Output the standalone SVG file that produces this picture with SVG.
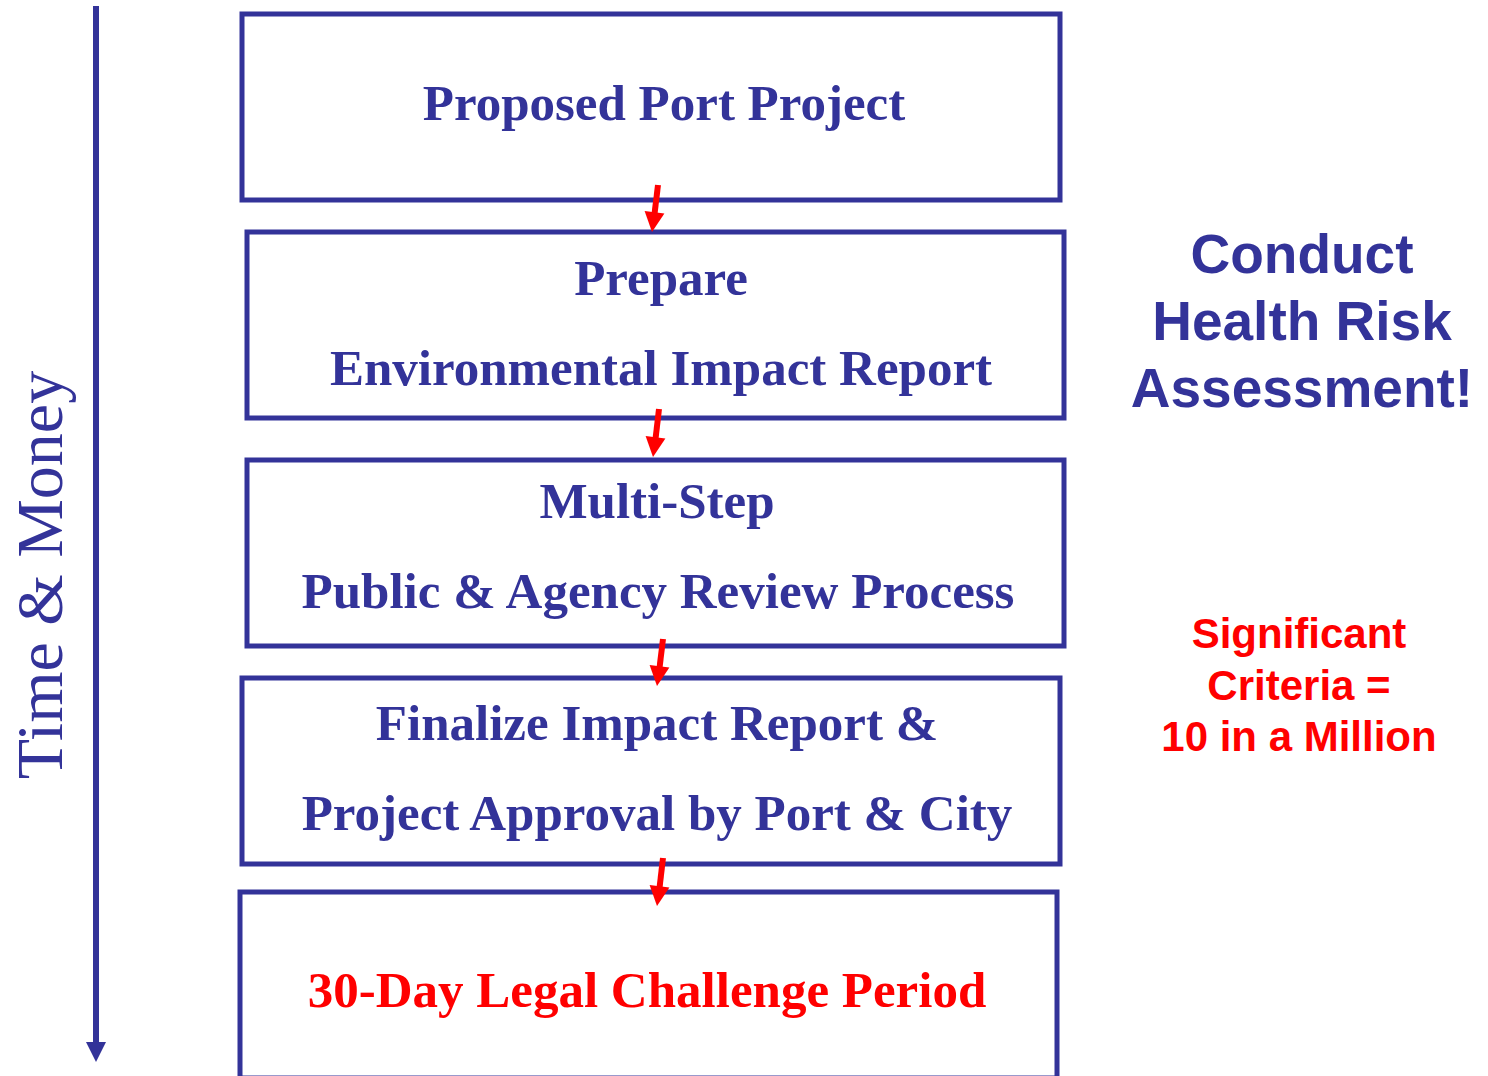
<svg xmlns="http://www.w3.org/2000/svg" width="1488" height="1076" viewBox="0 0 1488 1076">
<style>
.box{fill:#ffffff;stroke:#333399;stroke-width:5}
.bt{font-family:"Liberation Serif","Times New Roman",serif;font-weight:bold;font-size:51px;fill:#333399;text-anchor:middle}
.red{fill:#ff0000}
.side{font-family:"Liberation Sans",Arial,sans-serif;font-weight:bold;text-anchor:middle}
.conn{stroke:#ff0000;stroke-width:6;fill:none}
.head{fill:#ff0000}
</style>
<rect width="1488" height="1076" fill="#ffffff"/>
<g id="axis">
<line x1="96" y1="6" x2="96" y2="1046" stroke="#333399" stroke-width="6"/>
<path d="M86,1042 L106,1042 L96,1062 z" fill="#333399"/>
<text transform="translate(62,575) rotate(-90)" font-family="'Liberation Serif','Times New Roman',serif" font-size="66" fill="#333399" text-anchor="middle">Time &amp; Money</text>
</g>
<g id="n1"><rect class="box" x="242" y="14" width="818" height="186"/><text class="bt" x="664" y="120">Proposed Port Project</text></g>
<g id="n2"><rect class="box" x="247" y="232" width="817" height="186"/><text class="bt" x="661" y="295">Prepare</text><text class="bt" x="661" y="385">Environmental Impact Report</text></g>
<g id="n3"><rect class="box" x="247" y="460" width="817" height="186"/><text class="bt" x="657" y="518">Multi-Step</text><text class="bt" x="658" y="608">Public &amp; Agency Review Process</text></g>
<g id="n4"><rect class="box" x="242" y="678" width="818" height="186"/><text class="bt" x="657" y="740">Finalize Impact Report &amp;</text><text class="bt" x="657" y="830">Project Approval by Port &amp; City</text></g>
<g id="n5"><rect class="box" x="240" y="892" width="817" height="186"/><text class="bt red" x="647" y="1007">30-Day Legal Challenge Period</text></g>
<g id="hra"><text class="side" font-size="55" fill="#333399"><tspan x="1302" y="273">Conduct</tspan><tspan x="1302" y="340">Health Risk</tspan><tspan x="1302" y="407">Assessment!</tspan></text></g>
<g id="crit"><text class="side" font-size="42" fill="#ff0000"><tspan x="1299" y="648">Significant</tspan><tspan x="1299" y="700">Criteria =</tspan><tspan x="1299" y="751">10 in a Million</tspan></text></g>
<g id="connectors">
<line class="conn" x1="658" y1="185" x2="654.5" y2="214"/>
<path class="head" d="M664.4,213.5 L652,232 L644.6,210.9 z"/>
<line class="conn" x1="659" y1="409" x2="655.5" y2="439"/>
<path class="head" d="M665.4,438.4 L653,457 L645.6,436 z"/>
<line class="conn" x1="663" y1="639" x2="659.5" y2="668"/>
<path class="head" d="M669.4,667.5 L657,686 L649.6,664.9 z"/>
<line class="conn" x1="663" y1="858" x2="659.5" y2="888"/>
<path class="head" d="M669.4,887.4 L657,906 L649.6,885 z"/>
</g>
</svg>
